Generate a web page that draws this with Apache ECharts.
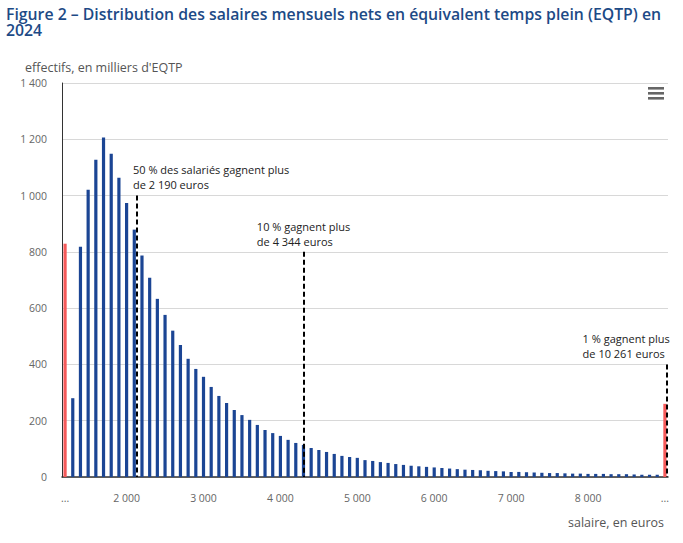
<!DOCTYPE html>
<html>
<head>
<meta charset="utf-8">
<script src="https://cdn.jsdelivr.net/npm/echarts@6/dist/echarts.min.js"></script>
<style>
html,body{margin:0;padding:0;background:#fff;}
#c{width:683px;height:543px;}
</style>
</head>
<body>
<div id="c"></div>
<script>
// Salary bins (euros, lower bound of 100-euro band); first and last are open-ended bins
const bins = [1200,1300,1400,1500,1600,1700,1800,1900,2000,2100,2200,2300,2400,2500,2600,2700,2800,2900,
  3000,3100,3200,3300,3400,3500,3600,3700,3800,3900,4000,4100,4200,4300,4400,4500,4600,4700,4800,4900,
  5000,5100,5200,5300,5400,5500,5600,5700,5800,5900,6000,6100,6200,6300,6400,6500,6600,6700,6800,6900,
  7000,7100,7200,7300,7400,7500,7600,7700,7800,7900,8000,8100,8200,8300,8400,8500,8600,8700,8800,8900,9000];
// Headcount, thousands of FTE
const effectifs = [829,280,818,1021,1127,1206,1149,1063,974,879,787,708,633,576,520,469,420,384,
  356,320,288,263,238,220,203,185,167,156,146,132,121,114,103,96,89,82,75,71,
  68,60,57,53,50,46,43,40,38,36,34,32,30,28,26,25,24,22,21,20,
  18,18,17,16,15,14,14,13,12,12,11,11,11,10,10,10,9,8,8,8,260];
// Open-ended bins shown in red
const openBins = [1200, 9000];
// x tick labels
const xTickValues = [1200,2000,3000,4000,5000,6000,7000,8000,9000];
const xTickLabels = ['...','2 000','3 000','4 000','5 000','6 000','7 000','8 000','...'];
// Reference lines (position on salary axis, top value, text)
const refLineX = [2135, 4305, 9022];
const refLineTop = [1000, 800, 400];
const refLineText = [
  '50 % des salariés gagnent plus\nde 2 190 euros',
  '10 % gagnent plus\nde 4 344 euros',
  '1 % gagnent plus\nde 10 261 euros'
];
const refTextOffset = [[-4,-34],[-47,-33],[-84,-33]];

const BLUE = '#1b4594', RED = '#f55a5a';
const fmt = v => String(v).replace(/\B(?=(\d{3})+(?!\d))/g, ' ');

const chart = echarts.init(document.getElementById('c'), null, {renderer:'svg'});
const seriesData = bins.map((b,i) => ({
  value:[b, effectifs[i]],
  itemStyle:{color: openBins.includes(b) ? RED : BLUE}
}));

const titleStyle = {fontFamily:'Open Sans', fontWeight:600, fontSize:15.8, lineHeight:16, color:'#1d4a86'};
chart.setOption({
  animation:false,
  textStyle:{fontFamily:'Open Sans'},
  title:[
    {text:'Figure 2 – Distribution des salaires mensuels nets en équivalent temps plein (EQTP) en',
     left:6, top:6, padding:0, textStyle:titleStyle},
    {text:'2024', left:6, top:22, padding:0, textStyle:titleStyle},
    {text:"effectifs, en milliers d'EQTP", left:20, top:56,
     textStyle:{fontFamily:'Open Sans', fontWeight:'normal', fontSize:12.5, color:'#555'}},
    {text:'salaire, en euros', right:14, top:511,
     textStyle:{fontFamily:'Open Sans', fontWeight:'normal', fontSize:12.5, color:'#555'}}
  ],
  grid:{left:62, right:15, top:83, bottom:66, containLabel:false},
  xAxis:{
    type:'value', min:1160, max:9040, interval:40,
    axisLine:{show:true, onZero:false, lineStyle:{color:'#333', width:1.5}},
    axisTick:{show:false},
    splitLine:{show:false},
    axisLabel:{
      margin:15, color:'#666', fontSize:10.5, showMinLabel:true, showMaxLabel:true,
      formatter:v => { const k = xTickValues.indexOf(v); return k >= 0 ? xTickLabels[k] : ''; }
    }
  },
  yAxis:{
    type:'value', min:0, max:1400, interval:200,
    axisLine:{show:true, lineStyle:{color:'#333', width:1}},
    axisTick:{show:false},
    splitLine:{lineStyle:{color:'#d8d8d8', width:1}},
    axisLabel:{margin:15, color:'#666', fontSize:10.5, formatter:v => fmt(v)}
  },
  series:[{
    type:'bar', data:seriesData, barWidth:3.2, silent:true,
    markLine:{
      silent:true, symbol:['none','none'],
      lineStyle:{color:'#000', width:2, type:[5,3]},
      label:{show:false},
      data: refLineX.map((x,i) => [{coord:[x, refLineTop[i]]},{coord:[x, 0]}])
    }
  }],
  graphic:[
    {type:'rect', left:648, top:87, shape:{width:16, height:2.6}, style:{fill:'#666'}},
    {type:'rect', left:648, top:92, shape:{width:16, height:2.6}, style:{fill:'#666'}},
    {type:'rect', left:648, top:97, shape:{width:16, height:2.6}, style:{fill:'#666'}}
  ]
});

const texts = refLineX.map((x,i) => {
  const p = chart.convertToPixel({gridIndex:0}, [x, refLineTop[i]]);
  return {type:'text', x:p[0]+refTextOffset[i][0], y:p[1]+refTextOffset[i][1],
    style:{text:refLineText[i], fill:'#222', font:'11px "Open Sans"', lineHeight:15}};
});
chart.setOption({graphic: texts.map((t,i)=>Object.assign({id:'ann'+i}, t))});
</script>
</body>
</html>
